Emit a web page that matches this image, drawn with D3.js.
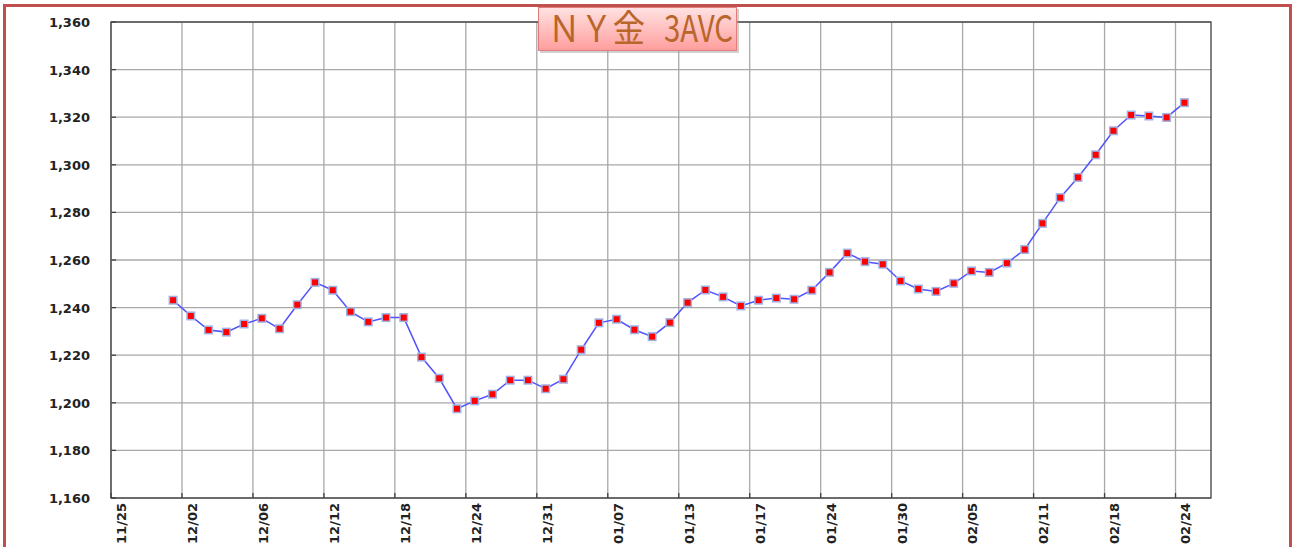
<!DOCTYPE html>
<html>
<head>
<meta charset="utf-8">
<script src="https://cdn.jsdelivr.net/npm/d3@7"></script>
<style>
  html, body { margin: 0; padding: 0; background: #fff; }
  svg { display: block; }
</style>
</head>
<body>
<svg id="chart" width="1293" height="547"></svg>
<script>
const title = "ＮＹ金 3AVC";

// one label every 4 category slots (slot 0, 4, 8 ...)
const tickLabels = ["11/25", "12/02", "12/06", "12/12", "12/18", "12/24", "12/31", "01/07",
                    "01/13", "01/17", "01/24", "01/30", "02/05", "02/11", "02/18", "02/24"];
const yTicks = [1160, 1180, 1200, 1220, 1240, 1260, 1280, 1300, 1320, 1340, 1360];

// 62 category slots, empty ones are null
const prices = [
  null, null, null,
  1243.1, 1236.5, 1230.6, 1229.7, 1233.1, 1235.5, 1231.1, 1241.2, 1250.6, 1247.3,
  1238.3, 1234.0, 1235.8, 1235.8, 1219.2, 1210.3, 1197.5, 1200.8, 1203.6, 1209.5,
  1209.5, 1205.9, 1209.9, 1222.3, 1233.6, 1235.1, 1230.7, 1227.8, 1233.7, 1242.1,
  1247.4, 1244.5, 1240.7, 1243.1, 1244.0, 1243.5, 1247.3, 1254.8, 1262.9, 1259.3,
  1258.2, 1251.2, 1247.8, 1246.8, 1250.2, 1255.4, 1254.8, 1258.7, 1264.4, 1275.4,
  1286.2, 1294.7, 1304.2, 1314.3, 1320.9, 1320.5, 1319.9, 1326.1,
  null
];

const pL = 111, pR = 1211, pT = 22, pB = 498;
const svg = d3.select("#chart");

// outer frame
svg.append("rect")
   .attr("x", 4.5).attr("y", 5.5).attr("width", 1286).attr("height", 600)
   .attr("fill", "#fff").attr("stroke", "#c0504d").attr("stroke-width", 3);

const xS = d3.scaleBand().domain(d3.range(prices.length)).range([pL, pR]).padding(0);
const yS = d3.scaleLinear().domain([yTicks[0], yTicks[yTicks.length - 1]]).range([pB, pT]);
const cx = i => xS(i) + xS.bandwidth() / 2;

const grid = svg.append("g");

// horizontal grid + y labels
yTicks.forEach(t => {
  grid.append("line")
      .attr("x1", pL).attr("x2", pR).attr("y1", yS(t)).attr("y2", yS(t))
      .attr("stroke", "#a8a8a8").attr("stroke-width", 1.3);
  grid.append("line")
      .attr("x1", pL).attr("x2", pL + 5).attr("y1", yS(t)).attr("y2", yS(t))
      .attr("stroke", "#404040").attr("stroke-width", 1.3);
  svg.append("text")
     .attr("x", 90).attr("y", yS(t) + 5).attr("text-anchor", "end")
     .attr("font-family", "DejaVu Sans").attr("font-weight", "bold")
     .attr("font-size", "13px").attr("fill", "#222")
     .text(d3.format(",")(t));
});

// vertical grid at every 4th slot, label sits on the slot after the line
tickLabels.forEach((lab, k) => {
  const x = xS(k * 4);
  grid.append("line")
      .attr("x1", x).attr("x2", x).attr("y1", pT).attr("y2", pB)
      .attr("stroke", "#a8a8a8").attr("stroke-width", 1.3);
  grid.append("line")
      .attr("x1", x).attr("x2", x).attr("y1", pB - 5).attr("y2", pB)
      .attr("stroke", "#404040").attr("stroke-width", 1.3);
  svg.append("text")
     .attr("transform", `translate(${cx(k * 4) + 6},${pB + 5}) rotate(-90)`)
     .attr("text-anchor", "end")
     .attr("font-family", "DejaVu Sans").attr("font-weight", "bold")
     .attr("font-size", "13px").attr("fill", "#222")
     .text(lab);
});

// plot border
svg.append("rect")
   .attr("x", pL).attr("y", pT).attr("width", pR - pL).attr("height", pB - pT)
   .attr("fill", "none").attr("stroke", "#404040").attr("stroke-width", 1.3);

// line
const pts = prices.map((v, i) => ({ i, v })).filter(d => d.v !== null);
const line = d3.line().x(d => cx(d.i)).y(d => yS(d.v));
svg.append("path").datum(pts).attr("d", line)
   .attr("fill", "none").attr("stroke", "#5252ff").attr("stroke-width", 1.5);

// markers
svg.selectAll("rect.mk").data(pts).enter().append("rect")
   .attr("class", "mk")
   .attr("x", d => cx(d.i) - 3.75).attr("y", d => yS(d.v) - 3.75)
   .attr("width", 7.5).attr("height", 7.5)
   .attr("fill", "#ff0000").attr("stroke", "#9fb2e6").attr("stroke-width", 1.5);

// title box
const defs = svg.append("defs");
const grad = defs.append("linearGradient").attr("id", "tg").attr("x1", 0).attr("y1", 0).attr("x2", 0).attr("y2", 1);
grad.append("stop").attr("offset", "0%").attr("stop-color", "#ffe2e2");
grad.append("stop").attr("offset", "100%").attr("stop-color", "#ff9d9d");

svg.append("rect")
   .attr("x", 540).attr("y", 9).attr("width", 199).attr("height", 44)
   .attr("fill", "#999").attr("opacity", 0.45);
svg.append("rect")
   .attr("x", 538.5).attr("y", 7.5).attr("width", 198).attr("height", 43)
   .attr("fill", "url(#tg)").attr("stroke", "#e07c7c").attr("stroke-width", 1);

// two runs so the wide gap before "3AVC" is kept
const [tA, tB] = title.split(" ");
const tt = svg.append("text")
   .attr("y", 42)
   .attr("font-family", "Noto Sans CJK JP").attr("font-size", "37px")
   .attr("fill", "#b9662a");
tt.append("tspan").attr("x", 548).attr("textLength", 97).attr("lengthAdjust", "spacingAndGlyphs").text(tA);
tt.append("tspan").attr("x", 664).attr("textLength", 69).attr("lengthAdjust", "spacingAndGlyphs").text(tB);
</script>
</body>
</html>
